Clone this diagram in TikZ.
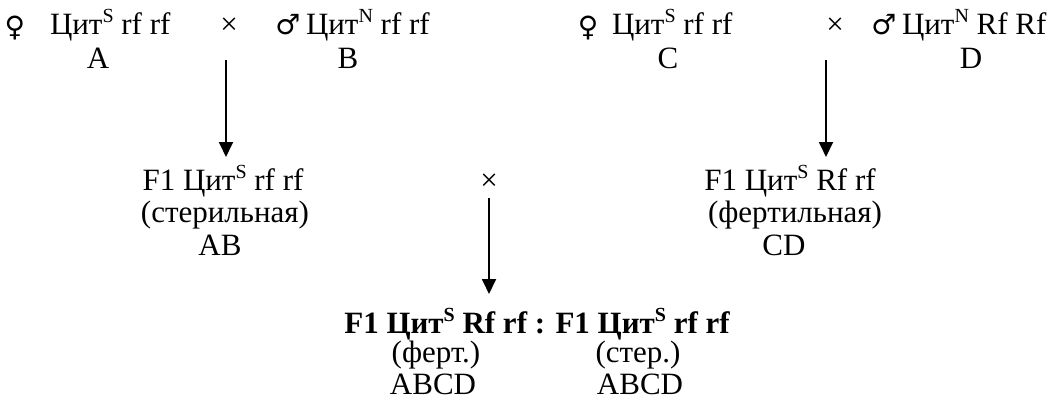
\documentclass[tikz,border=0pt]{standalone}
\usepackage{fontspec}
\setmainfont{Liberation Serif}
\newfontfamily\symfont{DejaVu Sans}
\usetikzlibrary{arrows.meta}
\newcommand{\sups}[1]{\raisebox{0.36em}{\fontsize{20}{20}\selectfont #1}}
\newcommand{\fem}{{\symfont\fontsize{28}{28}\selectfont ♀}}
\newcommand{\mal}{{\symfont\fontsize{28}{28}\selectfont ♂}}
\begin{document}
\begin{tikzpicture}[x=1pt,y=-1pt,
  every node/.style={inner sep=0pt, outer sep=0pt, font=\fontsize{31}{31}\selectfont},
  tc/.style={anchor=base},
  tl/.style={anchor=base west},
  arr/.style={line width=1.8pt, -{Triangle[width=14pt,length=15pt]}}]
\useasboundingbox (0,0) rectangle (1064,410);
% row 1 left
\node[tc] (fA) at (15,36) {\fem};
\node[tl] (gA) at (50,34) {Цит\sups{S} rf rf};
\node[tc] (x1) at (229,34) {×};
\node[tc] (mB) at (288,34) {\mal};
\node[tl] (gB) at (306,34) {Цит\sups{N} rf rf};
\node[tc] (A) at (98,68) {A};
\node[tc] (B) at (348,68) {B};
% row 1 right
\node[tc] (fC) at (588,36) {\fem};
\node[tl] (gC) at (612,34) {Цит\sups{S} rf rf};
\node[tc] (x2) at (835,34) {×};
\node[tc] (mD) at (884,34) {\mal};
\node[tl] (gD) at (902,34) {Цит\sups{N} Rf Rf};
\node[tc] (C) at (668,68) {C};
\node[tc] (D) at (971,68) {D};
% F1 row
\node[tc] (f1a) at (223,190) {F1 Цит\sups{S} rf rf};
\node[tc] (f1as) at (225,222) {(стерильная)};
\node[tc] (AB) at (220,255) {AB};
\node[tc] (x3) at (489,190) {×};
\node[tc] (f1b) at (790,190) {F1 Цит\sups{S} Rf rf};
\node[tc] (f1bs) at (795,222) {(фертильная)};
\node[tc] (CD) at (784,255) {CD};
% bottom
\node[tc] (res) at (537,333) {\bfseries F1 Цит\sups{S} Rf rf : F1 Цит\sups{S} rf rf};
\node[tc] (fer) at (436,362) {(ферт.)};
\node[tc] (ste) at (638,362) {(стер.)};
\node[tc] (abcd1) at (433,394) {ABCD};
\node[tc] (abcd2) at (640,394) {ABCD};
% arrows
\coordinate (a1s) at (226,60);  \coordinate (a1e) at (226,157);
\coordinate (a2s) at (826,60);  \coordinate (a2e) at (826,157);
\coordinate (a3s) at (489,198); \coordinate (a3e) at (489,294);
\draw[arr] (a1s) -- (a1e);
\draw[arr] (a2s) -- (a2e);
\draw[arr] (a3s) -- (a3e);
\end{tikzpicture}
\end{document}
